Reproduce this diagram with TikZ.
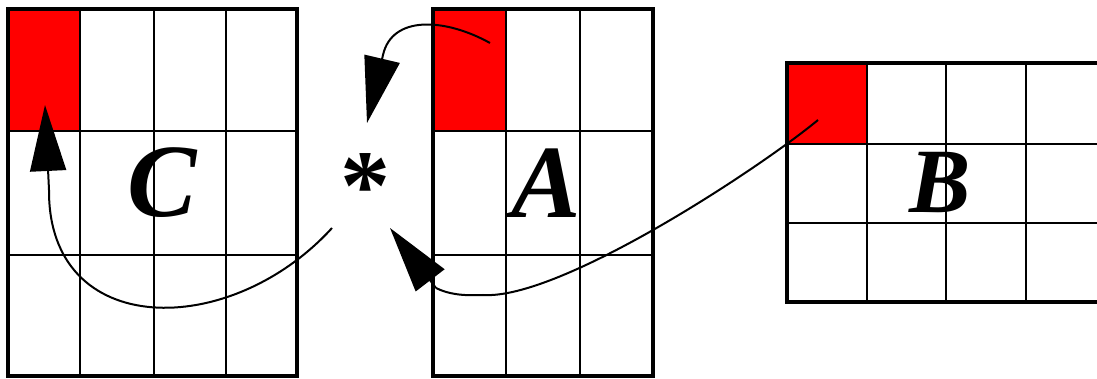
\documentclass[tikz,border=0pt]{standalone}
\usepackage{fontspec}
\setmainfont{Liberation Serif}
\usetikzlibrary{arrows.meta}
\begin{document}
\begin{tikzpicture}[x=1pt,y=-1pt,
  gridline/.style={line width=1.8pt},
  frame/.style={line width=3.5pt},
  bigletter/.style={font=\fontsize{104}{104}\selectfont\bfseries\itshape, inner sep=0pt},
  astnode/.style={font=\fontsize{100}{100}\selectfont\bfseries, inner sep=0pt},
  conn/.style={line width=2pt},
  connarrow/.style={line width=2pt, -{Triangle[length=66pt,width=36pt]}},
]
\useasboundingbox (0,0) rectangle (1097,379);
\clip (0,0) rectangle (1097,379);

% matrix C
\fill[red] (8,9) rectangle (80,131);
\draw[gridline] (80,9) -- (80,376) (154,9) -- (154,376) (226,9) -- (226,376)
                (8,131) -- (297,131) (8,255) -- (297,255);
\draw[frame] (8,9) rectangle (297,376);

% matrix A
\fill[red] (433,9) rectangle (506,131);
\draw[gridline] (506,9) -- (506,376) (580,9) -- (580,376)
                (433,131) -- (653,131) (433,255) -- (653,255);
\draw[frame] (433,9) rectangle (653,376);

% matrix B
\fill[red] (787,63) rectangle (867,144);
\draw[gridline] (867,63) -- (867,302) (946,63) -- (946,302) (1026,63) -- (1026,302)
                (787,144) -- (1110,144) (787,223) -- (1110,223);
\draw[frame] (787,63) rectangle (1106,302);

% labels
\node[bigletter] (C) at (162,183) {C};
\node[bigletter] (A) at (546,183) {A};
\node[bigletter, font=\fontsize{92}{92}\selectfont\bfseries\itshape] (B) at (940,183) {B};
\node[astnode] (ast) at (365,187) {*};

% connector anchors
\coordinate (aS) at (490,43);
\coordinate (aM) at (383,55);
\coordinate (aT) at (367,123);

\coordinate (bS) at (818,120);
\coordinate (bM) at (483,295);
\coordinate (bN) at (436,288);
\coordinate (bT) at (390,228);

\coordinate (cS) at (332,228);
\coordinate (cM) at (49,190);
\coordinate (cT) at (45,105);

% A -> *
\draw[conn] (aS) .. controls (445,18) and (392,15) .. (aM);
\draw[connarrow] (aM) -- (aT);

% B -> *
\draw[conn] (bS) .. controls (760,168) and (560,300) .. (bM)
                 .. controls (462,296) and (448,294) .. (bN);
\draw[connarrow] (bN) -- (bT);

% * -> C
\draw[conn] (cS) .. controls (230,340) and (48,340) .. (cM);
\draw[connarrow] (cM) -- (cT);
\end{tikzpicture}
\end{document}
